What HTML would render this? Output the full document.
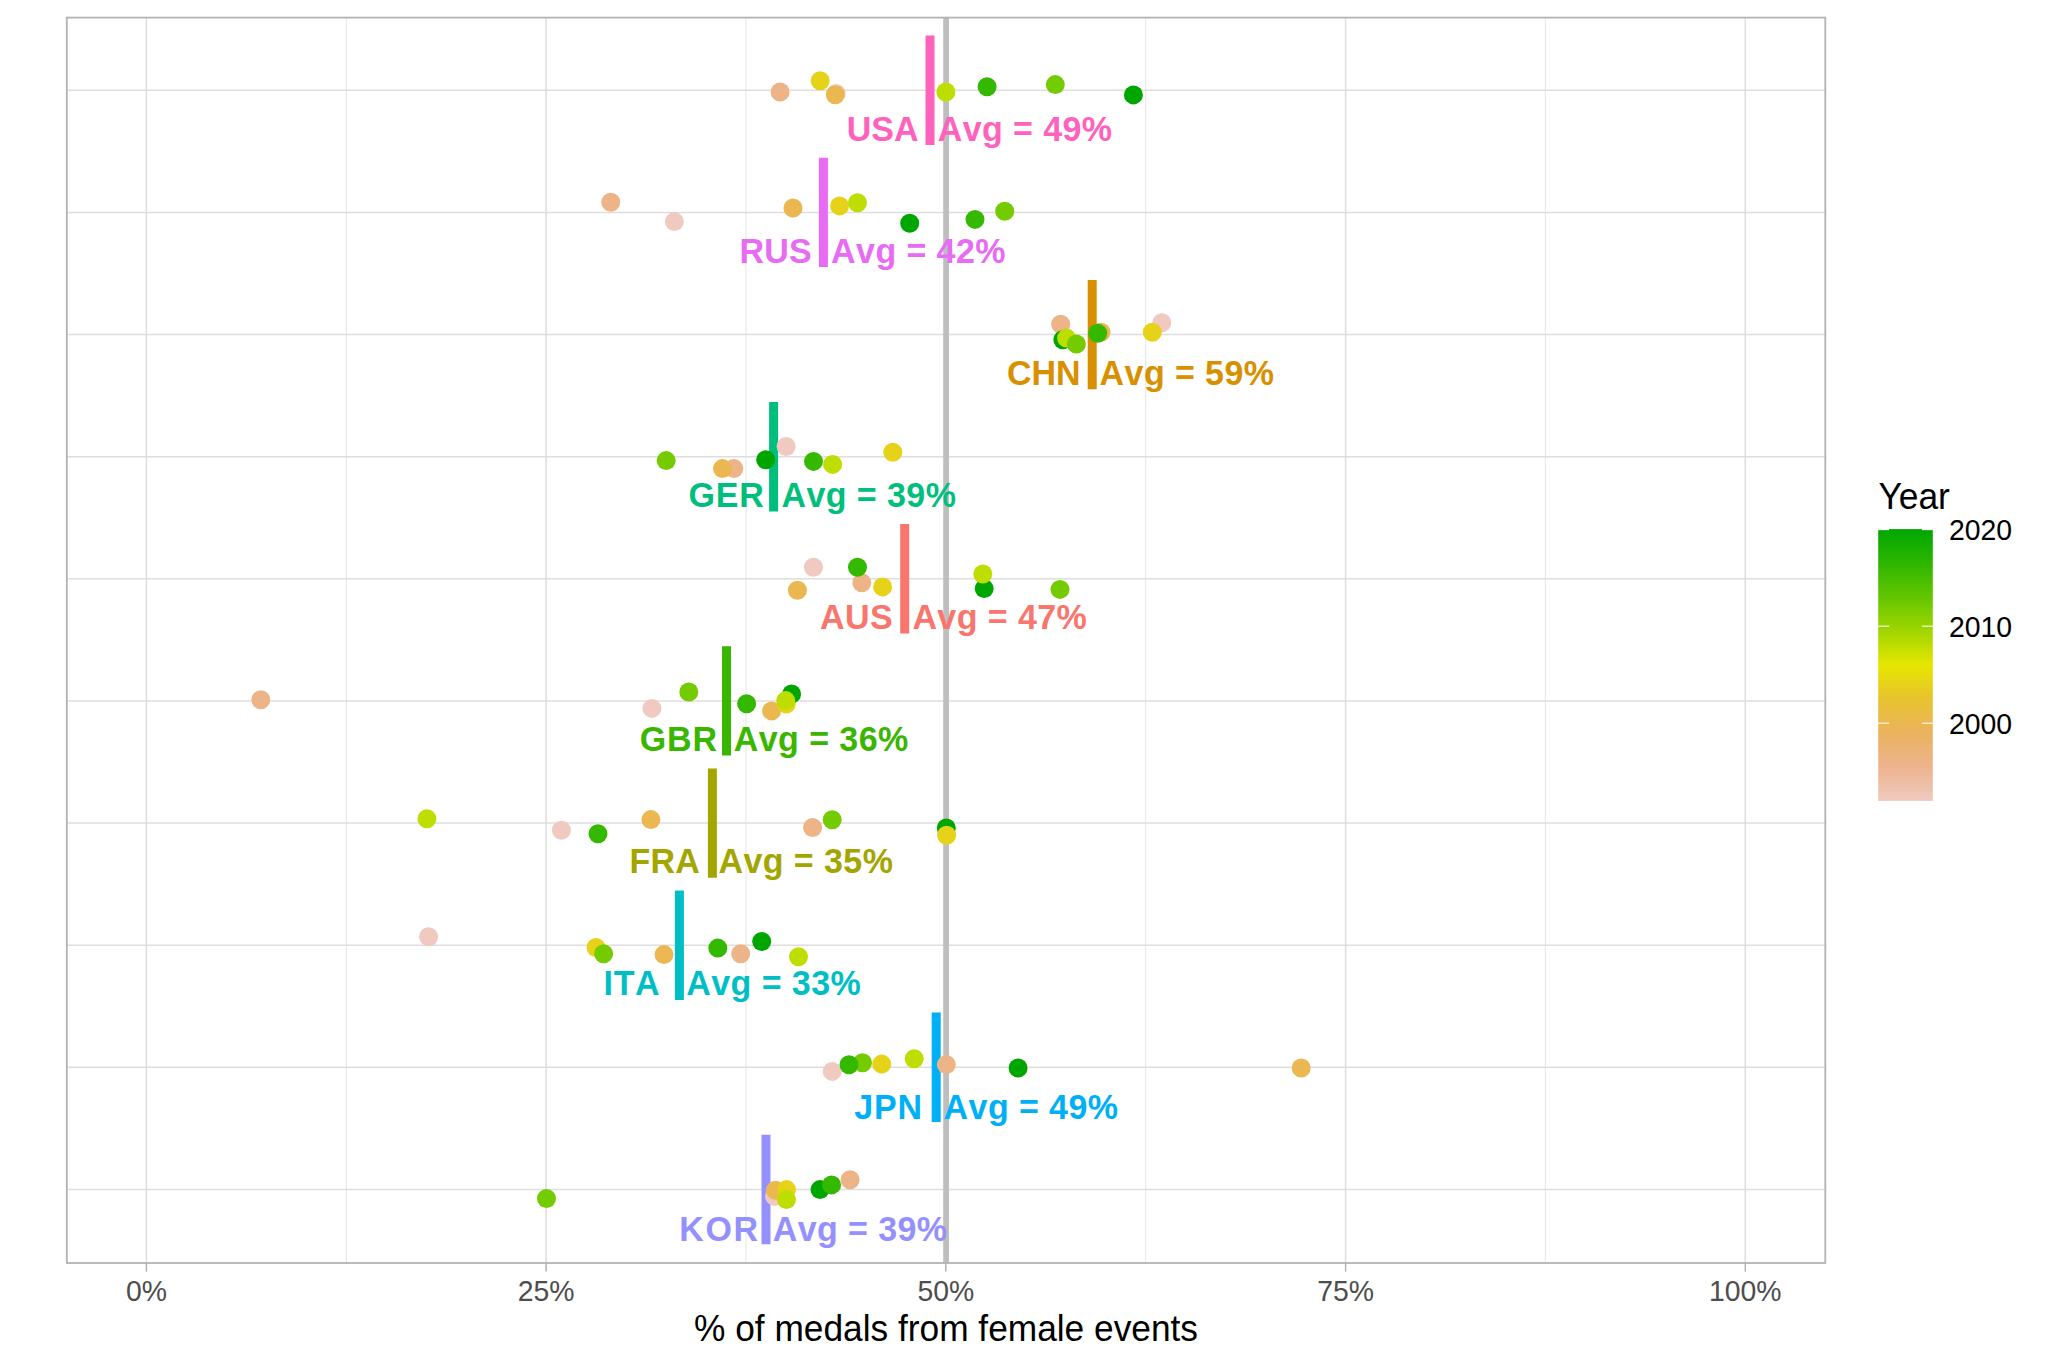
<!DOCTYPE html>
<html lang="en"><head><meta charset="utf-8"><title>% of medals from female events</title>
<style>html,body{margin:0;padding:0;background:#fff}body{width:2048px;height:1365px;overflow:hidden}svg{display:block}text{font-family:"Liberation Sans",Arial,Helvetica,sans-serif;font-kerning:none}.lab{font-weight:bold;font-size:34px}.ax{font-size:28.4px;fill:#4D4D4D}.lg{font-size:28.4px;fill:#000}</style></head><body>
<svg width="2048" height="1365" viewBox="0 0 2048 1365">
<rect width="2048" height="1365" fill="#fff"/>
<g><line x1="346.3" x2="346.3" y1="17.6" y2="1263.0" stroke="#DEDEDE" stroke-width="0.8"/><line x1="746.0" x2="746.0" y1="17.6" y2="1263.0" stroke="#DEDEDE" stroke-width="0.8"/><line x1="1145.7" x2="1145.7" y1="17.6" y2="1263.0" stroke="#DEDEDE" stroke-width="0.8"/><line x1="1545.4" x2="1545.4" y1="17.6" y2="1263.0" stroke="#DEDEDE" stroke-width="0.8"/><line x1="146.4" x2="146.4" y1="17.6" y2="1263.0" stroke="#DEDEDE" stroke-width="1.5"/><line x1="546.1" x2="546.1" y1="17.6" y2="1263.0" stroke="#DEDEDE" stroke-width="1.5"/><line x1="945.8" x2="945.8" y1="17.6" y2="1263.0" stroke="#DEDEDE" stroke-width="1.5"/><line x1="1345.6" x2="1345.6" y1="17.6" y2="1263.0" stroke="#DEDEDE" stroke-width="1.5"/><line x1="1745.3" x2="1745.3" y1="17.6" y2="1263.0" stroke="#DEDEDE" stroke-width="1.5"/><line x1="66.8" x2="1825.3" y1="90.3" y2="90.3" stroke="#DEDEDE" stroke-width="1.5"/><line x1="66.8" x2="1825.3" y1="212.4" y2="212.4" stroke="#DEDEDE" stroke-width="1.5"/><line x1="66.8" x2="1825.3" y1="334.6" y2="334.6" stroke="#DEDEDE" stroke-width="1.5"/><line x1="66.8" x2="1825.3" y1="456.7" y2="456.7" stroke="#DEDEDE" stroke-width="1.5"/><line x1="66.8" x2="1825.3" y1="578.8" y2="578.8" stroke="#DEDEDE" stroke-width="1.5"/><line x1="66.8" x2="1825.3" y1="700.9" y2="700.9" stroke="#DEDEDE" stroke-width="1.5"/><line x1="66.8" x2="1825.3" y1="823.1" y2="823.1" stroke="#DEDEDE" stroke-width="1.5"/><line x1="66.8" x2="1825.3" y1="945.2" y2="945.2" stroke="#DEDEDE" stroke-width="1.5"/><line x1="66.8" x2="1825.3" y1="1067.3" y2="1067.3" stroke="#DEDEDE" stroke-width="1.5"/><line x1="66.8" x2="1825.3" y1="1189.5" y2="1189.5" stroke="#DEDEDE" stroke-width="1.5"/></g>
<line x1="946.1" x2="946.1" y1="17.6" y2="1263.0" stroke="#BEBEBE" stroke-width="5.8"/>
<line x1="930.0" x2="930.0" y1="35.6" y2="145.0" stroke="#FF62BC" stroke-width="9"/>
<line x1="823.4" x2="823.4" y1="157.7" y2="267.1" stroke="#E76BF3" stroke-width="9"/>
<line x1="1092.2" x2="1092.2" y1="279.9" y2="389.3" stroke="#D89000" stroke-width="9"/>
<line x1="773.6" x2="773.6" y1="402.0" y2="511.4" stroke="#00BF7D" stroke-width="9"/>
<line x1="904.7" x2="904.7" y1="524.1" y2="633.5" stroke="#F8766D" stroke-width="9"/>
<line x1="726.5" x2="726.5" y1="646.2" y2="755.6" stroke="#39B600" stroke-width="9"/>
<line x1="712.4" x2="712.4" y1="768.4" y2="877.8" stroke="#A3A500" stroke-width="9"/>
<line x1="679.4" x2="679.4" y1="890.5" y2="999.9" stroke="#00BFC4" stroke-width="9"/>
<line x1="936.2" x2="936.2" y1="1012.6" y2="1122.0" stroke="#00B0F6" stroke-width="9"/>
<line x1="766.0" x2="766.0" y1="1134.8" y2="1244.2" stroke="#9590FF" stroke-width="9"/>
<g><circle cx="836.2" cy="93.4" r="9.5" fill="#F0C9C0"/><circle cx="780.1" cy="92.0" r="9.5" fill="#EDB487"/><circle cx="835.3" cy="94.8" r="9.5" fill="#EAB750"/><circle cx="820.2" cy="80.8" r="9.5" fill="#E7D21A"/><circle cx="945.9" cy="92.0" r="9.5" fill="#BEDD00"/><circle cx="1055.3" cy="84.6" r="9.5" fill="#74CB00"/><circle cx="987.1" cy="86.7" r="9.5" fill="#35B800"/><circle cx="1133.4" cy="94.9" r="9.5" fill="#00A600"/></g>
<g><circle cx="610.8" cy="202.2" r="9.5" fill="#EDB487"/><circle cx="674.4" cy="221.6" r="9.5" fill="#F0C9C0"/><circle cx="793.0" cy="208.0" r="9.5" fill="#EAB750"/><circle cx="839.6" cy="205.9" r="9.5" fill="#E7D21A"/><circle cx="857.5" cy="202.7" r="9.5" fill="#BEDD00"/><circle cx="909.7" cy="223.3" r="9.5" fill="#00A600"/><circle cx="975.0" cy="219.4" r="9.5" fill="#35B800"/><circle cx="1004.7" cy="211.3" r="9.5" fill="#74CB00"/></g>
<g><circle cx="1060.7" cy="324.2" r="9.5" fill="#EDB487"/><circle cx="1161.8" cy="322.7" r="9.5" fill="#F0C9C0"/><circle cx="1152.3" cy="332.3" r="9.5" fill="#E7D21A"/><circle cx="1101.0" cy="332.3" r="9.5" fill="#EAB750"/><circle cx="1097.7" cy="333.3" r="9.5" fill="#35B800"/><circle cx="1062.8" cy="339.8" r="9.5" fill="#00A600"/><circle cx="1066.6" cy="338.1" r="9.5" fill="#BEDD00"/><circle cx="1076.4" cy="344.0" r="9.5" fill="#74CB00"/></g>
<g><circle cx="666.2" cy="460.6" r="9.5" fill="#74CB00"/><circle cx="733.8" cy="468.6" r="9.5" fill="#EDB487"/><circle cx="722.5" cy="468.6" r="9.5" fill="#EAB750"/><circle cx="765.7" cy="459.8" r="9.5" fill="#00A600"/><circle cx="786.1" cy="446.5" r="9.5" fill="#F0C9C0"/><circle cx="813.5" cy="461.4" r="9.5" fill="#35B800"/><circle cx="832.6" cy="464.4" r="9.5" fill="#BEDD00"/><circle cx="892.8" cy="452.3" r="9.5" fill="#E7D21A"/></g>
<g><circle cx="797.4" cy="590.2" r="9.5" fill="#EAB750"/><circle cx="813.5" cy="567.3" r="9.5" fill="#F0C9C0"/><circle cx="861.8" cy="582.8" r="9.5" fill="#EDB487"/><circle cx="857.5" cy="567.3" r="9.5" fill="#35B800"/><circle cx="882.6" cy="586.9" r="9.5" fill="#E7D21A"/><circle cx="984.2" cy="588.6" r="9.5" fill="#00A600"/><circle cx="982.8" cy="574.0" r="9.5" fill="#BEDD00"/><circle cx="1060.0" cy="589.4" r="9.5" fill="#74CB00"/></g>
<g><circle cx="260.8" cy="699.8" r="9.5" fill="#EDB487"/><circle cx="651.9" cy="708.4" r="9.5" fill="#F0C9C0"/><circle cx="688.8" cy="692.0" r="9.5" fill="#74CB00"/><circle cx="746.6" cy="703.8" r="9.5" fill="#35B800"/><circle cx="791.6" cy="694.0" r="9.5" fill="#00A600"/><circle cx="771.6" cy="710.9" r="9.5" fill="#EAB750"/><circle cx="786.2" cy="704.0" r="9.5" fill="#E7D21A"/><circle cx="785.7" cy="700.6" r="9.5" fill="#BEDD00"/></g>
<g><circle cx="426.9" cy="818.7" r="9.5" fill="#BEDD00"/><circle cx="561.4" cy="830.3" r="9.5" fill="#F0C9C0"/><circle cx="598.0" cy="833.7" r="9.5" fill="#35B800"/><circle cx="650.9" cy="819.6" r="9.5" fill="#EAB750"/><circle cx="812.6" cy="827.5" r="9.5" fill="#EDB487"/><circle cx="832.2" cy="819.7" r="9.5" fill="#74CB00"/><circle cx="946.3" cy="828.0" r="9.5" fill="#00A600"/><circle cx="946.6" cy="835.3" r="9.5" fill="#E7D21A"/></g>
<g><circle cx="428.6" cy="936.7" r="9.5" fill="#F0C9C0"/><circle cx="596.0" cy="947.5" r="9.5" fill="#E7D21A"/><circle cx="603.6" cy="953.7" r="9.5" fill="#74CB00"/><circle cx="664.0" cy="954.6" r="9.5" fill="#EAB750"/><circle cx="717.8" cy="948.1" r="9.5" fill="#35B800"/><circle cx="740.7" cy="953.7" r="9.5" fill="#EDB487"/><circle cx="761.7" cy="941.5" r="9.5" fill="#00A600"/><circle cx="798.5" cy="956.8" r="9.5" fill="#BEDD00"/></g>
<g><circle cx="832.2" cy="1071.4" r="9.5" fill="#F0C9C0"/><circle cx="862.5" cy="1062.7" r="9.5" fill="#74CB00"/><circle cx="849.0" cy="1064.8" r="9.5" fill="#35B800"/><circle cx="881.7" cy="1064.1" r="9.5" fill="#E7D21A"/><circle cx="914.2" cy="1058.8" r="9.5" fill="#BEDD00"/><circle cx="946.3" cy="1064.6" r="9.5" fill="#EDB487"/><circle cx="1018.1" cy="1068.0" r="9.5" fill="#00A600"/><circle cx="1301.2" cy="1068.0" r="9.5" fill="#EAB750"/></g>
<g><circle cx="546.5" cy="1198.5" r="9.5" fill="#74CB00"/><circle cx="774.6" cy="1196.4" r="9.5" fill="#F0C9C0"/><circle cx="775.5" cy="1190.3" r="9.5" fill="#EAB750"/><circle cx="786.5" cy="1189.6" r="9.5" fill="#E7D21A"/><circle cx="786.5" cy="1199.6" r="9.5" fill="#BEDD00"/><circle cx="820.0" cy="1189.6" r="9.5" fill="#00A600"/><circle cx="831.6" cy="1184.9" r="9.5" fill="#35B800"/><circle cx="850.1" cy="1179.7" r="9.5" fill="#EDB487"/></g>
<text transform="translate(882.7 140.5) scale(1 1.05)" class="lab" text-anchor="middle" letter-spacing="0" fill="#FF62BC">USA</text>
<text transform="translate(937.7 140.5) scale(1 1.05)" class="lab" letter-spacing="0.42" fill="#FF62BC">Avg = 49%</text>
<text transform="translate(775.7 262.6) scale(1 1.05)" class="lab" text-anchor="middle" letter-spacing="0.2" fill="#E76BF3">RUS</text>
<text transform="translate(831.1 262.6) scale(1 1.05)" class="lab" letter-spacing="0.42" fill="#E76BF3">Avg = 42%</text>
<text transform="translate(1043.8 384.8) scale(1 1.05)" class="lab" text-anchor="middle" letter-spacing="0" fill="#D89000">CHN</text>
<text transform="translate(1099.6 384.8) scale(1 1.05)" class="lab" letter-spacing="0.42" fill="#D89000">Avg = 59%</text>
<text transform="translate(726.5 506.9) scale(1 1.05)" class="lab" text-anchor="middle" letter-spacing="0.8" fill="#00BF7D">GER</text>
<text transform="translate(781.5 506.9) scale(1 1.05)" class="lab" letter-spacing="0.42" fill="#00BF7D">Avg = 39%</text>
<text transform="translate(856.6 629.0) scale(1 1.05)" class="lab" text-anchor="middle" letter-spacing="0.45" fill="#F8766D">AUS</text>
<text transform="translate(912.4 629.0) scale(1 1.05)" class="lab" letter-spacing="0.42" fill="#F8766D">Avg = 47%</text>
<text transform="translate(678.9 751.1) scale(1 1.05)" class="lab" text-anchor="middle" letter-spacing="0.95" fill="#39B600">GBR</text>
<text transform="translate(733.8 751.1) scale(1 1.05)" class="lab" letter-spacing="0.42" fill="#39B600">Avg = 36%</text>
<text transform="translate(664.7 873.3) scale(1 1.05)" class="lab" text-anchor="middle" letter-spacing="0.25" fill="#A3A500">FRA</text>
<text transform="translate(718.5 873.3) scale(1 1.05)" class="lab" letter-spacing="0.42" fill="#A3A500">Avg = 35%</text>
<text transform="translate(631.9 995.4) scale(1 1.05)" class="lab" text-anchor="middle" letter-spacing="0.6" fill="#00BFC4">ITA</text>
<text transform="translate(686.3 995.4) scale(1 1.05)" class="lab" letter-spacing="0.42" fill="#00BFC4">Avg = 33%</text>
<text transform="translate(888.5 1118.5) scale(1 1.05)" class="lab" text-anchor="middle" letter-spacing="0.85" fill="#00B0F6">JPN</text>
<text transform="translate(943.6 1118.5) scale(1 1.05)" class="lab" letter-spacing="0.42" fill="#00B0F6">Avg = 49%</text>
<text transform="translate(719.5 1240.6) scale(1 1.05)" class="lab" text-anchor="middle" letter-spacing="1.6" fill="#9590FF">KOR</text>
<text transform="translate(772.7 1240.6) scale(1 1.05)" class="lab" letter-spacing="0.42" fill="#9590FF">Avg = 39%</text>
<rect x="66.8" y="17.6" width="1758.5" height="1245.4" fill="none" stroke="#B3B3B3" stroke-width="1.8"/>
<line x1="146.4" x2="146.4" y1="1263.0" y2="1271.6" stroke="#B3B3B3" stroke-width="1.5"/>
<text transform="translate(146.4 1301.3) scale(1 1.05)" class="ax" text-anchor="middle">0%</text>
<line x1="546.1" x2="546.1" y1="1263.0" y2="1271.6" stroke="#B3B3B3" stroke-width="1.5"/>
<text transform="translate(546.1 1301.3) scale(1 1.05)" class="ax" text-anchor="middle">25%</text>
<line x1="945.8" x2="945.8" y1="1263.0" y2="1271.6" stroke="#B3B3B3" stroke-width="1.5"/>
<text transform="translate(945.8 1301.3) scale(1 1.05)" class="ax" text-anchor="middle">50%</text>
<line x1="1345.6" x2="1345.6" y1="1263.0" y2="1271.6" stroke="#B3B3B3" stroke-width="1.5"/>
<text transform="translate(1345.6 1301.3) scale(1 1.05)" class="ax" text-anchor="middle">75%</text>
<line x1="1745.3" x2="1745.3" y1="1263.0" y2="1271.6" stroke="#B3B3B3" stroke-width="1.5"/>
<text transform="translate(1745.3 1301.3) scale(1 1.05)" class="ax" text-anchor="middle">100%</text>
<text transform="translate(946.0 1340.7) scale(1 1.04)" text-anchor="middle" font-size="35.3" fill="#000">% of medals from female events</text>
<defs><linearGradient id="tg" x1="0" y1="1" x2="0" y2="0"><stop offset="0.0%" stop-color="#F0C9C0"/><stop offset="12.5%" stop-color="#EDB48E"/><stop offset="25.0%" stop-color="#EBB25E"/><stop offset="37.5%" stop-color="#E8C32E"/><stop offset="50.0%" stop-color="#E6E600"/><stop offset="62.5%" stop-color="#A0D600"/><stop offset="75.0%" stop-color="#63C600"/><stop offset="87.5%" stop-color="#2DB600"/><stop offset="100.0%" stop-color="#00A600"/></linearGradient></defs>
<text transform="translate(1878.4 508.8) scale(1 1.05)" font-size="35.4" fill="#000" style="font-kerning:normal">Year</text>
<rect x="1878.2" y="529.1" width="54.6" height="271.8" fill="url(#tg)"/>
<line x1="1878.2" x2="1889.1" y1="723.2" y2="723.2" stroke="#fff" stroke-width="1.1"/>
<line x1="1921.9" x2="1932.8" y1="723.2" y2="723.2" stroke="#fff" stroke-width="1.1"/>
<text transform="translate(1949.0 733.5) scale(1 1.05)" class="lg">2000</text>
<line x1="1878.2" x2="1889.1" y1="626.2" y2="626.2" stroke="#fff" stroke-width="1.1"/>
<line x1="1921.9" x2="1932.8" y1="626.2" y2="626.2" stroke="#fff" stroke-width="1.1"/>
<text transform="translate(1949.0 636.5) scale(1 1.05)" class="lg">2010</text>
<line x1="1878.2" x2="1889.1" y1="529.6" y2="529.6" stroke="#fff" stroke-width="1.1"/>
<line x1="1921.9" x2="1932.8" y1="529.6" y2="529.6" stroke="#fff" stroke-width="1.1"/>
<text transform="translate(1949.0 539.9) scale(1 1.05)" class="lg">2020</text>
</svg></body></html>
